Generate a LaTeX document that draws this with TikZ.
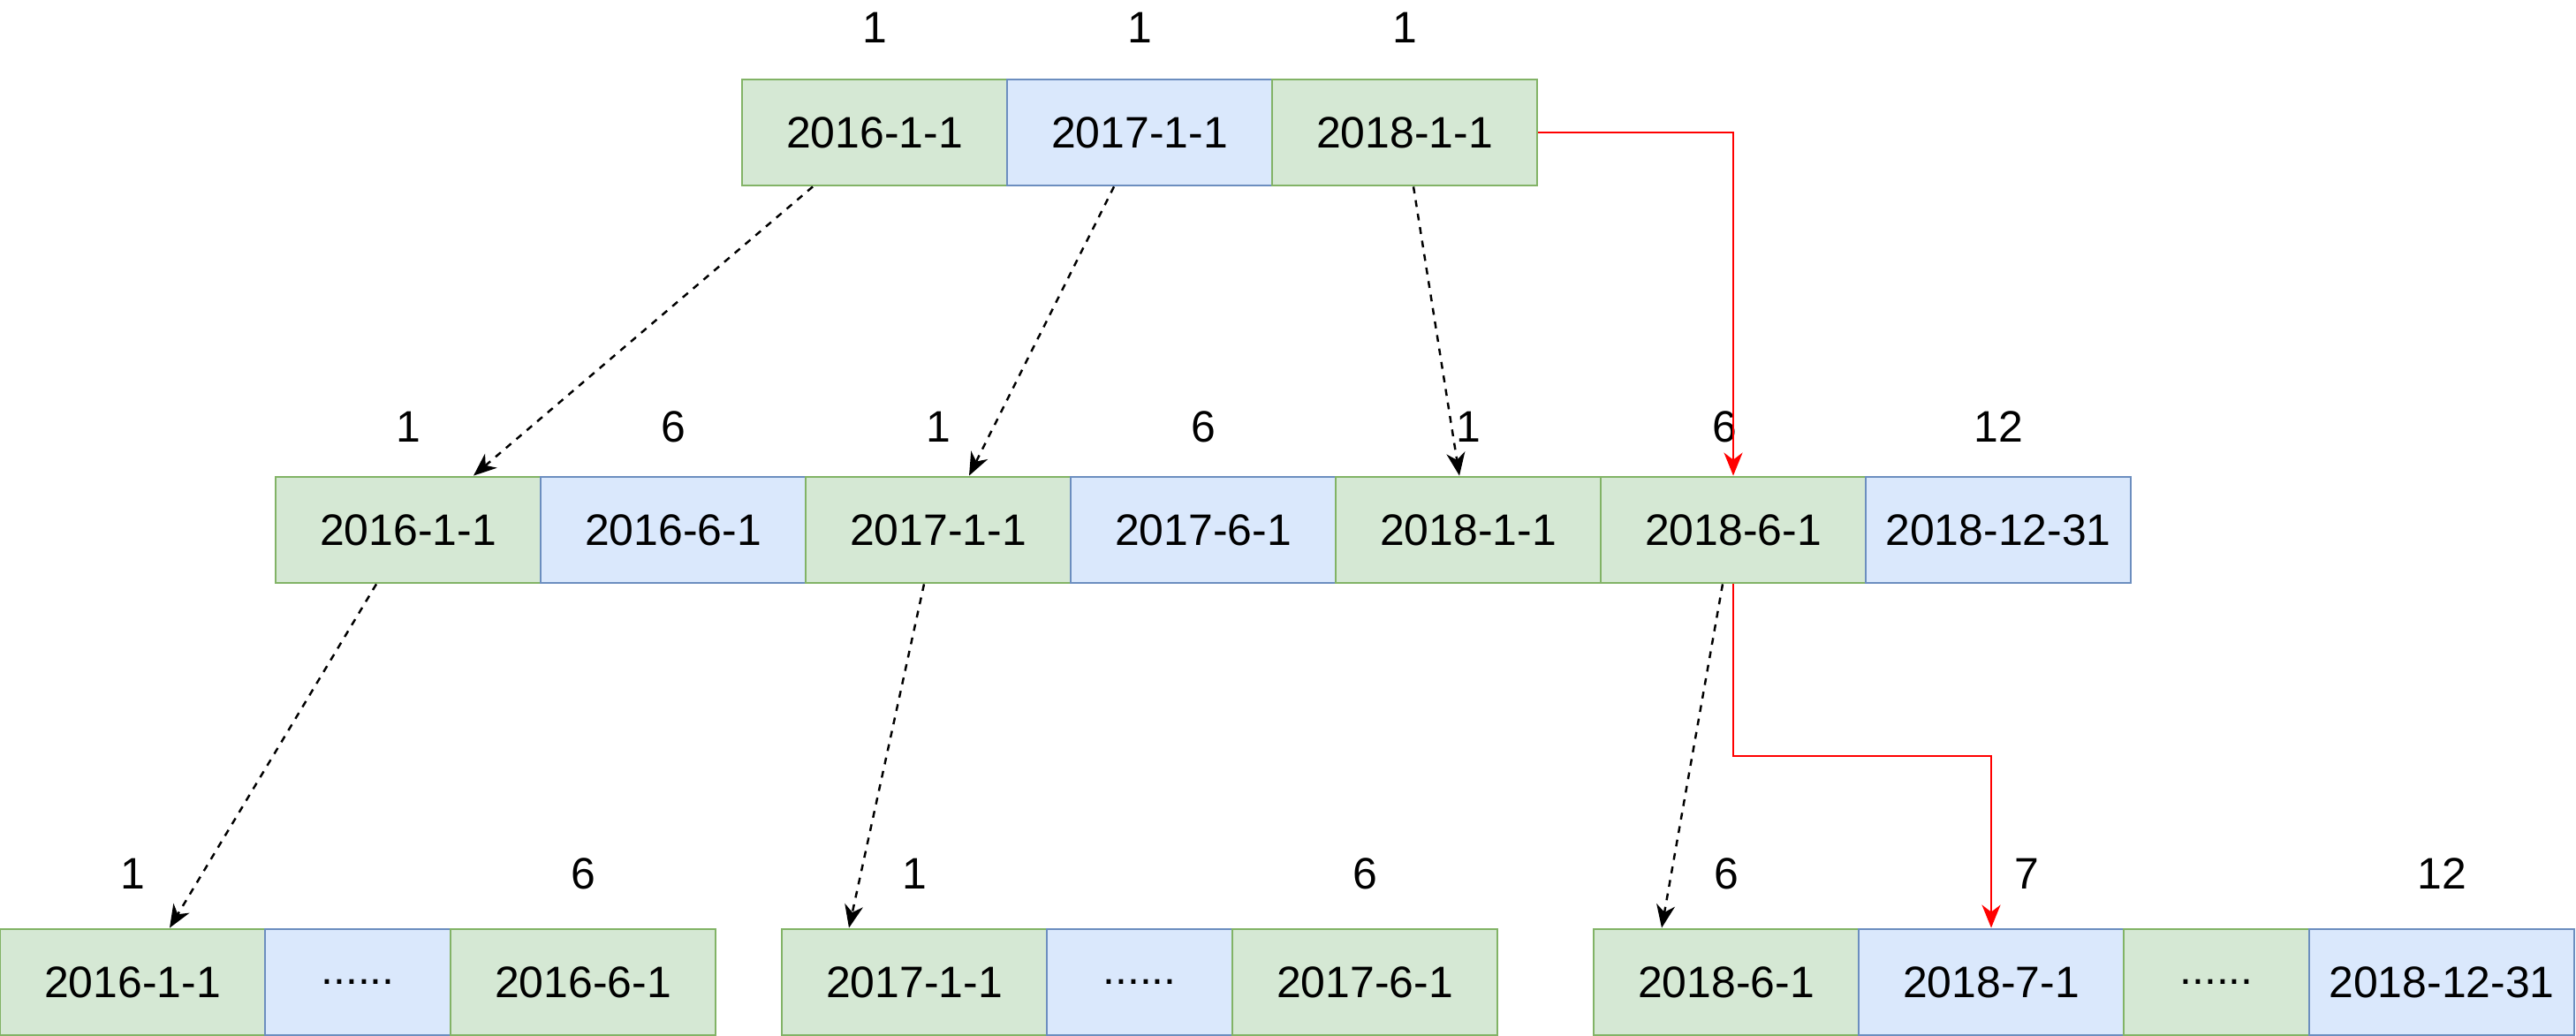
\documentclass[tikz,border=0pt]{standalone}
\usepackage{fontspec}
\setmainfont{Liberation Sans}
\usetikzlibrary{positioning, calc, arrows.meta}

\definecolor{greenfill}{HTML}{D5E8D4}
\definecolor{greenline}{HTML}{82B366}
\definecolor{bluefill}{HTML}{DAE8FC}
\definecolor{blueline}{HTML}{6C8EBF}

\begin{document}
\begin{tikzpicture}[
        font=\fontsize{14.2}{17}\selectfont,
        cell/.style={line width=0.8pt, minimum width=3cm, minimum height=1.2cm, inner sep=0pt},
        green cell/.style={cell, draw=greenline, fill=greenfill},
        blue cell/.style={cell, draw=blueline, fill=bluefill},
        dashed link/.style={-{Stealth[length=0.26cm, width=0.21cm, inset=0.08cm]}, line width=0.7pt, dash pattern=on 2.2pt off 2.2pt},
        red link/.style={-{Stealth[length=0.26cm, width=0.21cm, inset=0.08cm]}, line width=0.7pt, draw=red}
    ]
        \useasboundingbox (0, 0) rectangle (29.16, 11.73);

        % top level
        \path (9.90, 10.23) node[green cell](Top2016){2016-1-1};
        \path (12.90, 10.23) node[blue cell](Top2017){2017-1-1};
        \path (15.90, 10.23) node[green cell](Top2018){2018-1-1};
        \path (9.90, 11.42) node(TopNum2016){1};
        \path (12.90, 11.42) node(TopNum2017){1};
        \path (15.90, 11.42) node(TopNum2018){1};

        % middle level
        \path (4.62, 5.73) node[green cell](Mid2016a){2016-1-1};
        \path (7.62, 5.73) node[blue cell](Mid2016b){2016-6-1};
        \path (10.62, 5.73) node[green cell](Mid2017a){2017-1-1};
        \path (13.62, 5.73) node[blue cell](Mid2017b){2017-6-1};
        \path (16.62, 5.73) node[green cell](Mid2018a){2018-1-1};
        \path (19.62, 5.73) node[green cell](Mid2018b){2018-6-1};
        \path (22.62, 5.73) node[blue cell](Mid2018c){2018-12-31};
        \path (4.62, 6.90) node(MidNum2016a){1};
        \path (7.62, 6.90) node(MidNum2016b){6};
        \path (10.62, 6.90) node(MidNum2017a){1};
        \path (13.62, 6.90) node(MidNum2017b){6};
        \path (16.62, 6.90) node(MidNum2018a){1};
        \path (19.52, 6.90) node(MidNum2018b){6};
        \path (22.62, 6.90) node(MidNum2018c){12};

        % leaf level
        \path (1.50, 0.61) node[green cell](Leaf2016a){2016-1-1};
        \path (4.05, 0.61) node[blue cell, minimum width=2.1cm](Leaf2016x){......};
        \path (6.60, 0.61) node[green cell](Leaf2016b){2016-6-1};
        \path (10.35, 0.61) node[green cell](Leaf2017a){2017-1-1};
        \path (12.90, 0.61) node[blue cell, minimum width=2.1cm](Leaf2017x){......};
        \path (15.45, 0.61) node[green cell](Leaf2017b){2017-6-1};
        \path (19.54, 0.61) node[green cell](Leaf2018a){2018-6-1};
        \path (22.54, 0.61) node[blue cell](Leaf2018b){2018-7-1};
        \path (25.09, 0.61) node[green cell, minimum width=2.1cm](Leaf2018x){......};
        \path (27.64, 0.61) node[blue cell](Leaf2018c){2018-12-31};
        \path (1.50, 1.84) node(LeafNum2016a){1};
        \path (6.60, 1.84) node(LeafNum2016b){6};
        \path (10.35, 1.84) node(LeafNum2017a){1};
        \path (15.45, 1.84) node(LeafNum2017b){6};
        \path (19.54, 1.84) node(LeafNum2018a){6};
        \path (22.94, 1.84) node(LeafNum2018b){7};
        \path (27.64, 1.84) node(LeafNum2018c){12};

        % pointers
        \draw[dashed link] ($(Top2016.south) + (-0.70, 0)$) -- ($(Mid2016a.north) + (0.74, 0)$);
        \draw[dashed link] ($(Top2017.south) + (-0.29, 0)$) -- ($(Mid2017a.north) + (0.35, 0)$);
        \draw[dashed link] ($(Top2018.south) + (0.10, 0)$) -- ($(Mid2018a.north) + (-0.10, 0)$);
        \draw[dashed link] ($(Mid2016a.south) + (-0.36, 0)$) -- ($(Leaf2016a.north) + (0.42, 0)$);
        \draw[dashed link] ($(Mid2017a.south) + (-0.16, 0)$) -- ($(Leaf2017a.north) + (-0.74, 0)$);
        \draw[dashed link] ($(Mid2018b.south) + (-0.12, 0)$) -- ($(Leaf2018a.north) + (-0.73, 0)$);

        % search path
        \draw[red link] (Top2018.east) -| (Mid2018b.north);
        \draw[red link] (Mid2018b.south) |- ($(Mid2018b.south)!0.5!(Leaf2018b.north)$) -| (Leaf2018b.north);
    \end{tikzpicture}
\end{document}
